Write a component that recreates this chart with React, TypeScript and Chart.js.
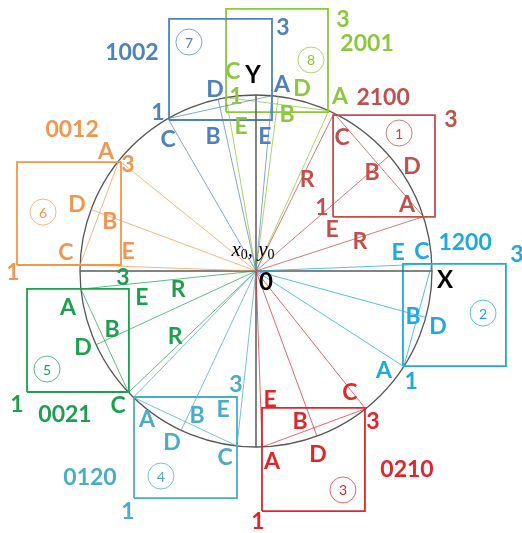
import React, { useEffect, useRef } from "react";
import { Chart, registerables } from "chart.js";

Chart.register(...registerables);

// Diagram units: circle centre at (0,0), circle radius = 100
const boxNumbers = ["1", "2", "3", "4", "5", "6", "7", "8"];
const boxCodes = ["2100", "1200", "0210", "0120", "0021", "0012", "1002", "2001"];
// [xmin, ymin, xmax, ymax]
const boxRects = [
  [43.8, 30.7, 101.7, 88.6],
  [83.5, -54.0, 142.0, 4.0],
  [3.4, -136.4, 61.9, -77.8],
  [-69.3, -129.0, -10.8, -71.6],
  [-130.1, -68.75, -72.2, -10.2],
  [-135.8, 3.4, -76.7, 61.9],
  [-49.4, 85.8, 9.1, 143.2],
  [-17.0, 90.3, 40.9, 148.9],
];
// angles (degrees) of the chord end points on the circle and of the arc midpoint D
const chordAngleA = [63.7, 2.3, -51.5, -134.1, -174.1, 141.1, 120.0, 65.6];
const chordAngleB = [18.0, -32.9, -88.0, -96.2, -136.4, 178.0, 84.8, 99.8];
const arcMidAngle = [40.85, -15.3, -69.75, -115.15, -155.25, 159.55, 102.4, 82.7];

const codeAnchor = [
  [72.2, 98.3], [118.8, 15.9], [85.8, -113.1], [-94.3, -117.6],
  [-108.5, -81.8], [-104.5, 80.1], [-70.5, 123.9], [63.1, 129.5],
];
const tagAnchor = [
  [81.3, 78.4], [129.0, -23.9], [49.4, -124.4], [-54.0, -116.5],
  [-118.75, -55.7], [-121.0, 33.5], [-38.1, 130.1], [31.25, 119.9],
];
const pointLabels: [string, number, number][][] = [
  [["C", 48.9, 75.6], ["B", 65.9, 55.7], ["D", 88.6, 59.1], ["A", 85.8, 37.5], ["1", 37.5, 35.8],
   ["E", 43.2, 23.3], ["R", 29.0, 51.7], ["R", 59.1, 16.5], ["3", 110.8, 85.8]],
  [["E", 80.7, 10.2], ["C", 94.3, 10.8], ["3", 148.3, 9.1], ["B", 89.2, -26.1], ["D", 103.4, -31.8],
   ["A", 72.7, -56.3], ["1", 88.1, -63.1]],
  [["E", 8.0, -73.3], ["B", 25.0, -85.8], ["C", 53.4, -69.3], ["3", 66.5, -85.8], ["A", 9.1, -108.5],
   ["D", 35.2, -104.5], ["1", 1.1, -142.6]],
  [["3", -11.4, -64.8], ["E", -18.75, -79.0], ["B", -33.5, -82.4], ["A", -61.9, -84.7],
   ["D", -47.7, -97.7], ["C", -17.6, -106.25], ["1", -72.7, -136.9]],
  [["3", -75.6, -4.0], ["E", -64.8, -15.3], ["R", -44.3, -10.8], ["A", -106.8, -21.0], ["B", -81.8, -33.5],
   ["R", -46.0, -37.5], ["D", -98.3, -43.75], ["1", -135.8, -76.1], ["C", -78.4, -76.7]],
  [["A", -85.2, 67.6], ["3", -72.7, 60.2], ["D", -101.7, 37.5], ["B", -83.0, 27.8], ["C", -108.0, 10.2],
   ["E", -72.7, 10.8], ["1", -138.1, -1.1]],
  [["3", 15.3, 138.1], ["D", -23.3, 102.8], ["A", 14.8, 105.7], ["1", -55.7, 89.8], ["C", -50.0, 74.4],
   ["B", -24.4, 76.1], ["E", 5.1, 76.1]],
  [["3", 49.4, 142.6], ["C", -13.1, 113.1], ["1", -11.4, 98.9], ["D", 26.1, 103.4], ["A", 47.7, 98.9],
   ["B", 17.6, 88.6], ["E", -8.5, 81.8]],
];
const axisLabels: [string, number, number][] = [["Y", -1.7, 111.4], ["X", 107.4, -5.1], ["0", 5.7, -6.25]];
const originLabelAnchor = [-1.7, 11.9];
const circleRadius = 100;

const palette = ["#C0504D", "#1FA9DD", "#E0252B", "#4BACC6", "#1F9E50", "#F0974F", "#4F81BD", "#8DC63F"];
const paletteLight = [
  "rgba(192,80,77,0.75)", "rgba(31,169,221,0.75)", "rgba(224,37,43,0.7)", "rgba(75,172,198,0.75)",
  "rgba(31,158,80,0.7)", "rgba(240,151,79,0.7)", "rgba(79,129,189,0.7)", "rgba(141,198,63,0.75)",
];

const onCircle = (deg: number) => {
  const r = (deg * Math.PI) / 180;
  return { x: circleRadius * Math.cos(r), y: circleRadius * Math.sin(r) };
};

const FONT = "Lato, 'Open Sans', sans-serif";

export default function App() {
  const ref = useRef<HTMLCanvasElement | null>(null);
  useEffect(() => {
    document.body.style.margin = "0";
    const canvas = ref.current;
    if (!canvas) return;
    const datasets: any[] = [];
    const seg = (pts: { x: number; y: number }[], color: string, width: number) => ({
      data: pts,
      showLine: true,
      borderColor: color,
      borderWidth: width,
      pointRadius: 0,
      fill: false,
      tension: 0,
    });
    const O = { x: 0, y: 0 };
    boxRects.forEach((r, i) => {
      const a = onCircle(chordAngleA[i]);
      const b = onCircle(chordAngleB[i]);
      const d = onCircle(arcMidAngle[i]);
      datasets.push(seg([O, a], paletteLight[i], 1));
      datasets.push(seg([O, b], paletteLight[i], 1));
      datasets.push(seg([O, d], paletteLight[i], 1));
      datasets.push(seg([a, b], paletteLight[i], 1));
    });
    // axes (diameters)
    datasets.push(seg([{ x: -circleRadius, y: 0 }, { x: circleRadius, y: 0 }], "#5a5a5a", 1.5));
    datasets.push(seg([{ x: 0, y: -circleRadius }, { x: 0, y: circleRadius }], "#5a5a5a", 1.5));
    boxRects.forEach((r, i) => {
      const [x1, y1, x2, y2] = r;
      datasets.push(
        seg(
          [{ x: x1, y: y1 }, { x: x2, y: y1 }, { x: x2, y: y2 }, { x: x1, y: y2 }, { x: x1, y: y1 }],
          palette[i],
          1.8
        )
      );
    });

    const circlePlugin = {
      id: "circle",
      beforeDatasetsDraw(chart: any) {
        const { ctx, scales } = chart;
        const cx = scales.x.getPixelForValue(0);
        const cy = scales.y.getPixelForValue(0);
        const rx = scales.x.getPixelForValue(circleRadius) - cx;
        const ry = cy - scales.y.getPixelForValue(circleRadius);
        ctx.save();
        ctx.beginPath();
        ctx.ellipse(cx, cy, rx, ry, 0, 0, Math.PI * 2);
        ctx.strokeStyle = "#555";
        ctx.lineWidth = 1.3;
        ctx.stroke();
        ctx.restore();
      },
    };

    const textPlugin = {
      id: "texts",
      afterDatasetsDraw(chart: any) {
        const { ctx, scales } = chart;
        const px = (x: number) => scales.x.getPixelForValue(x);
        const py = (y: number) => scales.y.getPixelForValue(y);
        ctx.save();
        ctx.textAlign = "center";
        ctx.textBaseline = "middle";
        pointLabels.forEach((list, i) => {
          ctx.fillStyle = palette[i];
          ctx.font = `bold 23px ${FONT}`;
          list.forEach(([t, x, y]) => ctx.fillText(t, px(x), py(y)));
          ctx.fillText(boxCodes[i], px(codeAnchor[i][0]), py(codeAnchor[i][1]));
          // circled number
          const tx = px(tagAnchor[i][0]);
          const ty = py(tagAnchor[i][1]);
          ctx.beginPath();
          ctx.arc(tx, ty, 13, 0, Math.PI * 2);
          ctx.strokeStyle = paletteLight[i];
          ctx.lineWidth = 1;
          ctx.stroke();
          ctx.font = `14px ${FONT}`;
          ctx.fillText(boxNumbers[i], tx, ty + 1);
        });
        ctx.fillStyle = "#000";
        ctx.font = `bold 24px ${FONT}`;
        axisLabels.forEach(([t, x, y]) => ctx.fillText(t, px(x), py(y)));
        // x0, y0
        const parts: [string, boolean][] = [["x", false], ["0", true], [", ", false], ["y", false], ["0", true]];
        const bigFont = "italic 21px 'Liberation Serif', 'DejaVu Serif', serif";
        const subFont = "14px 'Liberation Serif', 'DejaVu Serif', serif";
        let total = 0;
        parts.forEach(([t, sub]) => {
          ctx.font = sub ? subFont : bigFont;
          total += ctx.measureText(t).width;
        });
        let cur = px(originLabelAnchor[0]) - total / 2;
        const base = py(originLabelAnchor[1]);
        ctx.textAlign = "left";
        parts.forEach(([t, sub]) => {
          ctx.font = sub ? subFont : bigFont;
          ctx.fillText(t, cur, sub ? base + 5 : base);
          cur += ctx.measureText(t).width;
        });
        ctx.restore();
      },
    };

    const chart = new Chart(canvas, {
      type: "scatter",
      data: { datasets },
      options: {
        animation: false,
        responsive: false,
        devicePixelRatio: 1,
        layout: { padding: 0 },
        plugins: { legend: { display: false }, tooltip: { enabled: false } },
        scales: {
          x: { type: "linear", min: -145.45, max: 151.14, display: false },
          y: { type: "linear", min: -148.86, max: 153.98, display: false },
        },
      },
      plugins: [circlePlugin, textPlugin],
    } as any);
    return () => chart.destroy();
  }, []);
  return (
    <div style={{ position: "absolute", left: 0, top: 0, width: 522, height: 533, background: "#fff" }}>
      <canvas ref={ref} width={522} height={533} />
    </div>
  );
}
